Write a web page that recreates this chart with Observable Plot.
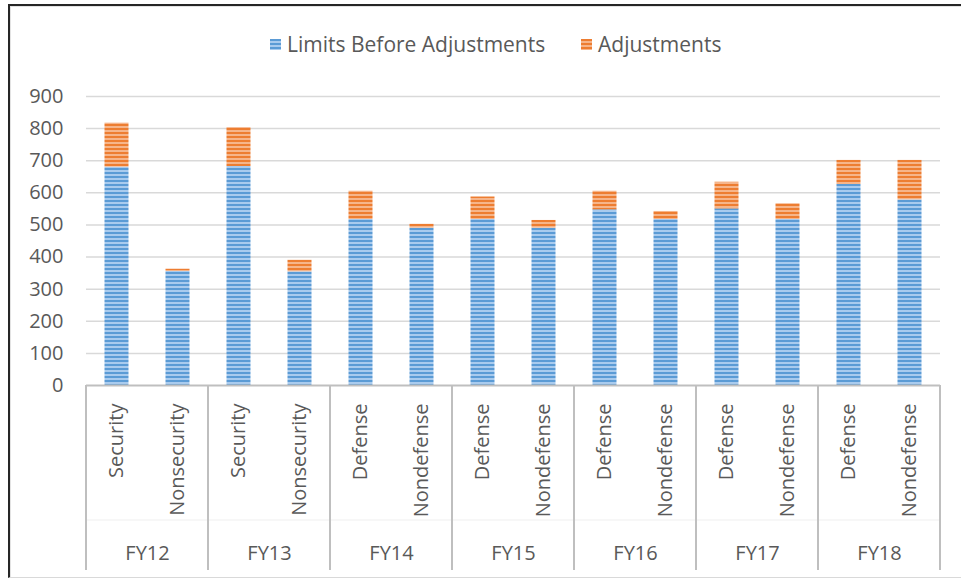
<!DOCTYPE html>
<html><head><meta charset="utf-8">
<script src="https://cdn.jsdelivr.net/npm/d3@7"></script>
<script src="https://cdn.jsdelivr.net/npm/@observablehq/plot@0.6"></script>
<style>
body{margin:0;background:#fff;font-family:"Open Sans",sans-serif;}
#wrap{position:relative;width:961px;height:583px;overflow:hidden;background:#fff;}
#legend{height:76px;position:relative;}
.item{position:absolute;top:30px;display:flex;align-items:center;font-size:21px;color:#595959;line-height:28px;white-space:nowrap;}
.sw{width:11px;height:11px;margin-right:6px;}
#frame{position:absolute;left:8px;top:4px;width:960px;height:574px;border-left:2px solid #262626;border-top:2px solid #262626;border-bottom:1px solid #d9d9d9;pointer-events:none;box-sizing:border-box;}
#inner{position:absolute;left:0;top:0;right:0;bottom:0;border-left:1px solid #e3e3e3;border-top:1px solid #e3e3e3;}
#chart svg{display:block;}
</style>
</head><body>
<div id="wrap">
  <div id="legend"></div>
  <div id="chart"></div>
  <div id="frame"><div id="inner"></div></div>
</div>
<script>
const years = ["FY12","FY13","FY14","FY15","FY16","FY17","FY18"];
const categories = ["Security","Nonsecurity","Security","Nonsecurity","Defense","Nondefense","Defense","Nondefense","Defense","Nondefense","Defense","Nondefense","Defense","Nondefense"];
const limits = [680,355,682,354,517,490,517,490,547,517,550,517,626,578];
const adjustments = [137,7,121,36,88,12,70,24,58,25,83,49,75,123];
const seriesNames = ["Limits Before Adjustments","Adjustments"];
const seriesColors = [["#5b9bd5","#a9cbee"],["#ed7d31","#f6b58a"]];
const yTicks = [0,100,200,300,400,500,600,700,800,900];

const rows = [];
seriesNames.forEach((s, k) => {
  const vals = k === 0 ? limits : adjustments;
  categories.forEach((c, i) => rows.push({year: years[Math.floor(i / 2)], slot: i % 2, cat: c, series: s, value: vals[i]}));
});
const labels = rows.filter(d => d.series === seriesNames[0]);

// legend
const legend = document.getElementById("legend");
const legendLeft = [270, 581];
seriesNames.forEach((s, k) => {
  const it = document.createElement("div");
  it.className = "item";
  it.style.left = legendLeft[k] + "px";
  const sw = document.createElement("div");
  sw.className = "sw";
  sw.style.background = `repeating-linear-gradient(to bottom, ${seriesColors[k][0]} 0 2px, ${seriesColors[k][1]} 2px 4px)`;
  it.appendChild(sw);
  const t = document.createElement("span");
  t.textContent = s;
  it.appendChild(t);
  legend.appendChild(it);
});

const plot = Plot.plot({
  width: 961, height: 507,
  marginTop: 20, marginBottom: 198, marginLeft: 86, marginRight: 21,
  style: {fontFamily: '"Open Sans", sans-serif', fontSize: "20px", color: "#595959", background: "transparent", overflow: "visible"},
  fx: {domain: years, padding: 0, axis: "bottom", tickSize: 0, tickPadding: 160, label: null},
  x: {domain: [0, 1], padding: 0, axis: null},
  y: {domain: [0, 900], ticks: yTicks, tickSize: 0, tickPadding: 23, label: null},
  color: {domain: seriesNames, range: ["url(#stripeBlue)", "url(#stripeOrange)"]},
  marks: [
    Plot.ruleY(yTicks.filter(t => t > 0), {stroke: "#d9d9d9", strokeWidth: 1.5}),
    Plot.barY(rows, {fx: "year", x: "slot", y: "value", fill: "series", insetLeft: 18.5, insetRight: 18.5}),
    Plot.ruleY([0], {stroke: "#bfbfbf", strokeWidth: 2}),
    Plot.text(labels, {fx: "year", x: "slot", text: "cat", frameAnchor: "bottom", rotate: -90, textAnchor: "end", lineAnchor: "middle", dy: 18, fill: "#595959"})
  ]
});

const svg = d3.select(plot);
const defs = svg.insert("defs", ":first-child");
function stripes(id, c1, c2) {
  const p = defs.append("pattern").attr("id", id).attr("patternUnits", "userSpaceOnUse").attr("width", 8).attr("height", 4);
  p.append("rect").attr("width", 8).attr("height", 4).attr("fill", c1);
  p.append("rect").attr("y", 2).attr("width", 8).attr("height", 2).attr("fill", c2);
}
stripes("stripeBlue", seriesColors[0][0], seriesColors[0][1]);
stripes("stripeOrange", seriesColors[1][0], seriesColors[1][1]);

// group separators below the axis, positioned with the fx scale
const fx = plot.scale("fx");
const yb = 507 - 198;
const sepX = years.map(y => fx.apply(y)).concat([fx.apply(years[years.length - 1]) + fx.bandwidth]);
const g = svg.append("g");
g.append("line").attr("x1", sepX[0]).attr("x2", sepX[sepX.length - 1]).attr("y1", yb + 135).attr("y2", yb + 135).attr("stroke", "#f4f4f4").attr("stroke-width", 1.5);
sepX.forEach(x => g.append("line").attr("x1", x).attr("x2", x).attr("y1", yb).attr("y2", yb + 185).attr("stroke", "#bfbfbf").attr("stroke-width", 2));

document.getElementById("chart").appendChild(plot);
</script>
</body></html>
